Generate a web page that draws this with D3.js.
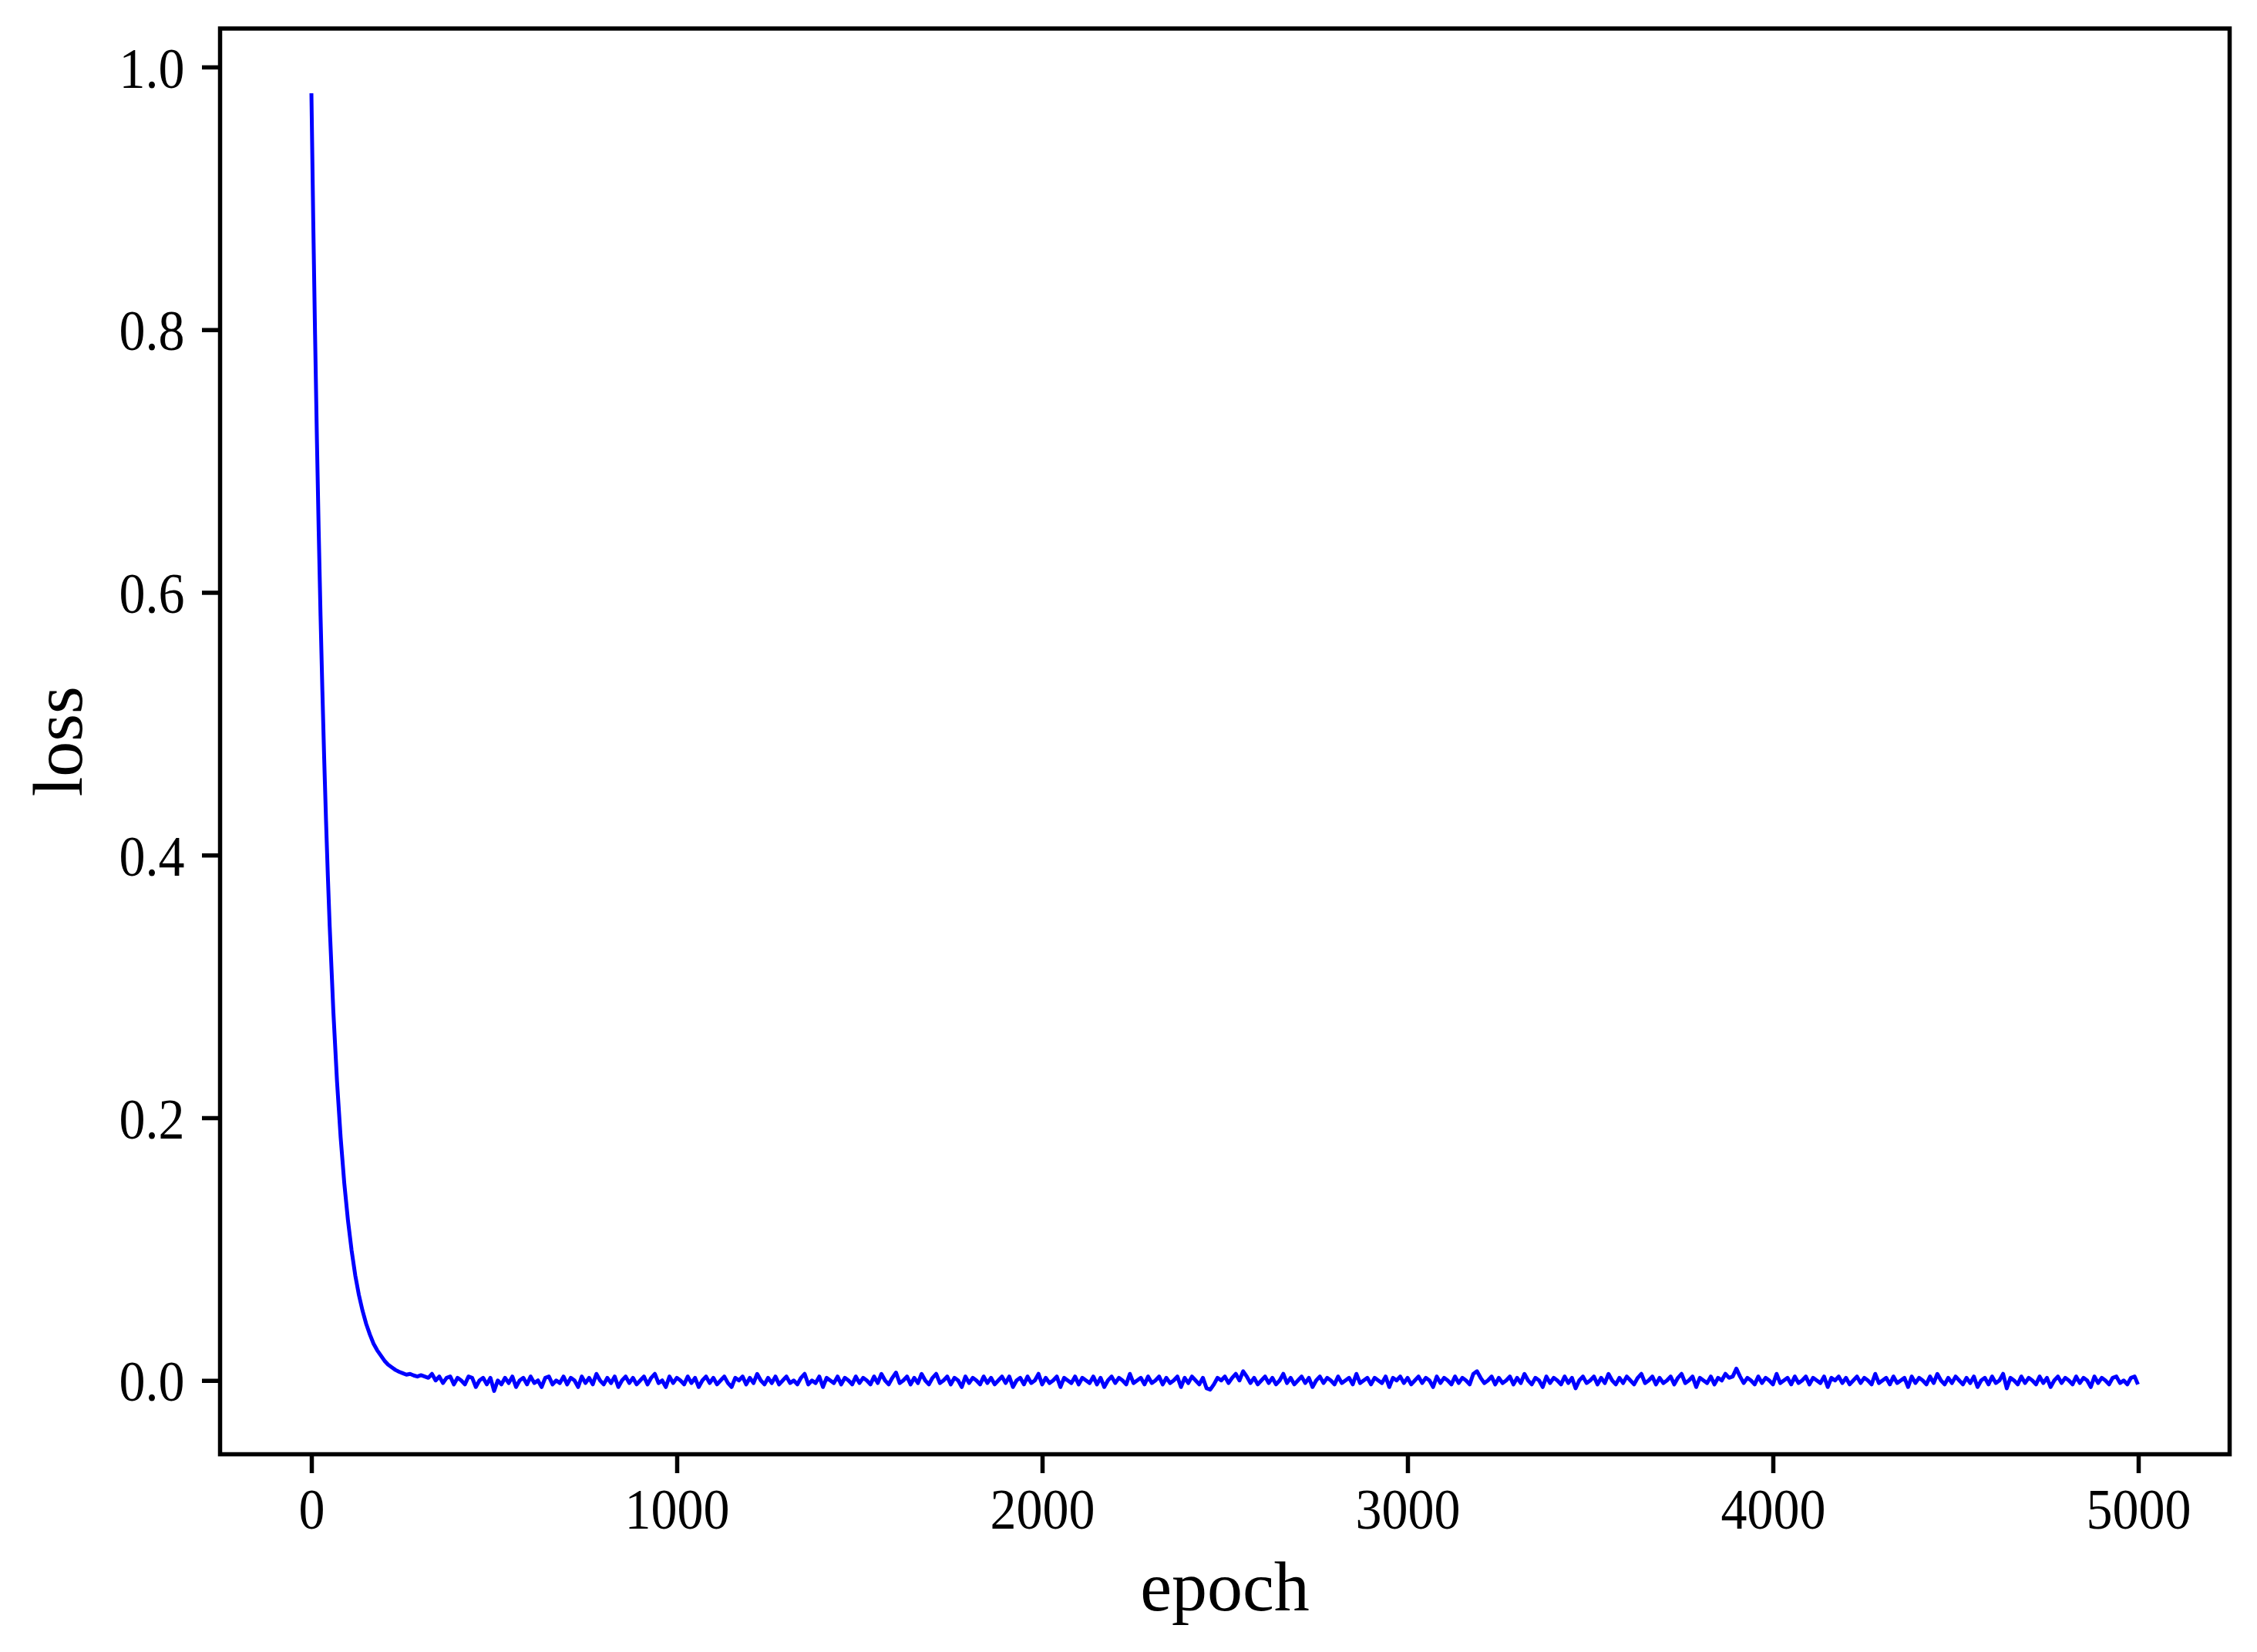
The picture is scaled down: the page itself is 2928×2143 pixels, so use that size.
<!DOCTYPE html>
<html>
<head>
<meta charset="utf-8">
<script src="https://cdn.jsdelivr.net/npm/d3@7"></script>
<style>
  html, body { margin: 0; padding: 0; background: #ffffff; }
  svg { display: block; }
</style>
</head>
<body>
<svg id="chart" width="2928" height="2143"></svg>
<script>
// ---------------- data ----------------
const xLabel = "epoch";
const yLabel = "loss";
const xTicks = [0, 1000, 2000, 3000, 4000, 5000];
const yTicks = [0.0, 0.2, 0.4, 0.6, 0.8, 1.0];

// fast initial decay (epoch, loss)
const decayEpochs = [0, 5, 10, 15, 20, 25, 30, 35, 40, 45, 50, 60, 70, 80, 90, 100, 110, 120, 130, 140, 150, 160, 170, 180, 190, 200, 210, 220, 230, 240, 250, 260, 270, 280, 290];
const decayLoss = [0.980, 0.883, 0.796, 0.717, 0.646, 0.582, 0.525, 0.473, 0.426, 0.384, 0.346, 0.281, 0.228, 0.185, 0.150, 0.122, 0.099, 0.080, 0.065, 0.053, 0.043, 0.035, 0.028, 0.023, 0.019, 0.015, 0.012, 0.010, 0.008, 0.0066, 0.0055, 0.0044, 0.0050, 0.0038, 0.0030];

// plateau: epochs 300, 310, ... 4990 and the last epoch 4999
const plateauStart = 300, plateauStep = 10, lastEpoch = 4999;
const plateauLoss = [
  0.004,0.003,0.002,0.005,0.000,0.003,-0.002,0.002,0.003,-0.003,0.002,0.000,-0.003,0.003,0.002,-0.005,0.000,0.002,-0.003,0.002,
  -0.008,0.000,-0.003,0.002,-0.002,0.003,-0.005,0.000,0.002,-0.003,0.003,-0.002,0.000,-0.005,0.002,0.003,-0.003,0.000,-0.002,0.003,
  -0.003,0.002,0.000,-0.005,0.003,-0.002,0.002,-0.003,0.005,0.000,-0.003,0.002,-0.002,0.003,-0.005,0.000,0.003,-0.002,0.002,-0.003,
  0.000,0.003,-0.003,0.002,0.005,-0.002,0.000,-0.005,0.003,-0.002,0.002,0.000,-0.003,0.003,-0.002,0.002,-0.005,0.000,0.003,-0.002,
  0.002,-0.003,0.000,0.003,-0.002,-0.005,0.002,0.000,0.003,-0.003,0.002,-0.002,0.005,0.000,-0.003,0.002,-0.002,0.003,-0.003,0.000,
  0.003,-0.002,0.000,-0.003,0.002,0.005,-0.003,0.000,-0.002,0.003,-0.005,0.002,0.000,-0.002,0.003,-0.003,0.002,0.000,-0.003,0.003,
  -0.002,0.002,0.000,-0.003,0.003,-0.002,0.005,0.000,-0.003,0.002,0.006,-0.002,0.000,0.003,-0.003,0.002,-0.002,0.005,0.000,-0.003,
  0.002,0.005,-0.002,0.000,0.003,-0.003,0.002,0.000,-0.005,0.003,-0.002,0.002,0.000,-0.003,0.003,-0.002,0.002,-0.003,0.000,0.003,
  -0.002,0.003,-0.005,0.000,0.002,-0.003,0.003,-0.002,0.000,0.005,-0.003,0.002,-0.002,0.000,0.003,-0.005,0.002,0.000,-0.002,0.003,
  -0.003,0.002,0.000,-0.002,0.003,-0.003,0.002,-0.005,0.000,0.003,-0.002,0.002,0.000,-0.003,0.005,-0.002,0.000,0.002,-0.003,0.003,
  -0.002,0.000,0.003,-0.003,0.002,-0.002,0.000,0.003,-0.005,0.002,-0.002,0.003,0.000,-0.003,0.002,-0.006,-0.007,-0.003,0.002,0.000,
  0.003,-0.002,0.002,0.005,0.000,0.007,0.003,-0.002,0.002,-0.003,0.000,0.003,-0.002,0.002,-0.003,0.000,0.005,-0.002,0.002,-0.003,
  0.000,0.003,-0.002,0.002,-0.005,0.000,0.003,-0.002,0.002,0.000,-0.003,0.003,-0.002,0.000,0.002,-0.003,0.005,-0.002,0.000,0.002,
  -0.003,0.002,0.000,-0.002,0.003,-0.005,0.002,0.000,0.003,-0.002,0.002,-0.003,0.000,0.003,-0.002,0.002,0.000,-0.005,0.003,-0.002,
  0.002,0.000,-0.003,0.003,-0.002,0.002,0.000,-0.003,0.005,0.007,0.002,-0.002,0.000,0.003,-0.003,0.002,-0.002,0.000,0.003,-0.003,
  0.002,-0.002,0.005,0.000,-0.003,0.002,0.000,-0.005,0.003,-0.002,0.002,0.000,-0.003,0.003,-0.002,0.002,-0.006,0.000,0.003,-0.002,
  0.000,0.003,-0.003,0.002,-0.002,0.005,0.000,-0.003,0.002,-0.002,0.003,0.000,-0.003,0.002,0.005,-0.002,0.000,0.003,-0.003,0.002,
  -0.002,0.000,0.003,-0.003,0.002,0.005,-0.002,0.000,0.003,-0.005,0.002,0.000,-0.002,0.003,-0.003,0.002,0.000,0.005,0.002,0.003,
  0.009,0.003,-0.002,0.002,0.000,-0.003,0.003,-0.002,0.002,0.000,-0.003,0.005,-0.002,0.000,0.002,-0.003,0.003,-0.002,0.000,0.003,
  -0.003,0.002,0.000,-0.002,0.003,-0.005,0.002,0.000,0.003,-0.002,0.002,-0.003,0.000,0.003,-0.002,0.002,0.000,-0.003,0.005,-0.002,
  0.000,0.002,-0.003,0.003,-0.002,0.000,0.002,-0.005,0.003,-0.002,0.002,0.000,-0.003,0.003,-0.002,0.005,0.000,-0.003,0.002,-0.002,
  0.003,0.000,-0.003,0.002,-0.002,0.003,-0.005,0.000,0.002,-0.003,0.003,-0.002,0.000,0.005,-0.006,0.002,0.000,-0.003,0.003,-0.002,
  0.002,0.000,-0.003,0.003,-0.002,0.002,-0.005,0.000,0.003,-0.002,0.002,0.000,-0.003,0.003,-0.002,0.002,0.000,-0.005,0.003,-0.002,
  0.002,0.000,-0.003,0.002,0.003,-0.002,0.000,-0.003,0.002,0.003,
  -0.003
];

// ---------------- layout ----------------
const W = 2928, H = 2143;
const plot = { left: 285.5, right: 2892.5, top: 37, bottom: 1886.5 };
const frameWidth = 5.5;
const fontFamily = "'Liberation Serif', 'Times New Roman', Times, serif";
const tickFont = 68, tickStretch = 1.1;

const points = decayEpochs.map((e, i) => ({ e, v: decayLoss[i] }));
plateauLoss.forEach((v, i) => {
  const e = (i === plateauLoss.length - 1) ? lastEpoch : plateauStart + i * plateauStep;
  points.push({ e, v });
});

const x = d3.scaleLinear().domain([-250, 5250]).range([plot.left, plot.right]);
const y = d3.scaleLinear().domain([-0.0562, 1.0293]).range([plot.bottom, plot.top]);

const svg = d3.select("#chart");
svg.append("rect").attr("width", W).attr("height", H).attr("fill", "#ffffff");

// line
const line = d3.line().x(d => x(d.e)).y(d => y(d.v));
svg.append("path")
  .datum(points)
  .attr("fill", "none")
  .attr("stroke", "#0000ff")
  .attr("stroke-width", 5)
  .attr("stroke-linejoin", "round")
  .attr("d", line);

// axes
const xAxis = svg.append("g")
  .attr("transform", `translate(0,${plot.bottom})`)
  .call(d3.axisBottom(x).tickValues(xTicks).tickSize(24.5).tickFormat(d3.format("d")));
xAxis.select(".domain").remove();
xAxis.selectAll(".tick line").attr("stroke", "#000").attr("stroke-width", 5.5);
xAxis.selectAll(".tick text")
  .attr("y", 96.5 / tickStretch).attr("dy", 0)
  .attr("transform", `scale(1,${tickStretch})`)
  .attr("font-family", fontFamily).attr("font-size", tickFont).attr("fill", "#000");

const yAxis = svg.append("g")
  .attr("transform", `translate(${plot.left},0)`)
  .call(d3.axisLeft(y).tickValues(yTicks).tickSize(23.5).tickFormat(d3.format(".1f")));
yAxis.select(".domain").remove();
yAxis.selectAll(".tick line").attr("stroke", "#000").attr("stroke-width", 5.5);
yAxis.selectAll(".tick text")
  .attr("x", -46).attr("dy", "0.35em")
  .attr("transform", `scale(1,${tickStretch})`)
  .attr("font-family", fontFamily).attr("font-size", tickFont).attr("fill", "#000");

// frame
svg.append("rect")
  .attr("x", plot.left).attr("y", plot.top)
  .attr("width", plot.right - plot.left).attr("height", plot.bottom - plot.top)
  .attr("fill", "none").attr("stroke", "#000").attr("stroke-width", frameWidth);

// axis labels
svg.append("text")
  .attr("x", (plot.left + plot.right) / 2).attr("y", 2089)
  .attr("text-anchor", "middle")
  .attr("font-family", fontFamily).attr("font-size", 92).attr("fill", "#000")
  .text(xLabel);

svg.append("text")
  .attr("transform", `translate(106,${(plot.top + plot.bottom) / 2}) rotate(-90)`)
  .attr("text-anchor", "middle")
  .attr("font-family", fontFamily).attr("font-size", 92).attr("fill", "#000")
  .text(yLabel);
</script>
</body>
</html>
